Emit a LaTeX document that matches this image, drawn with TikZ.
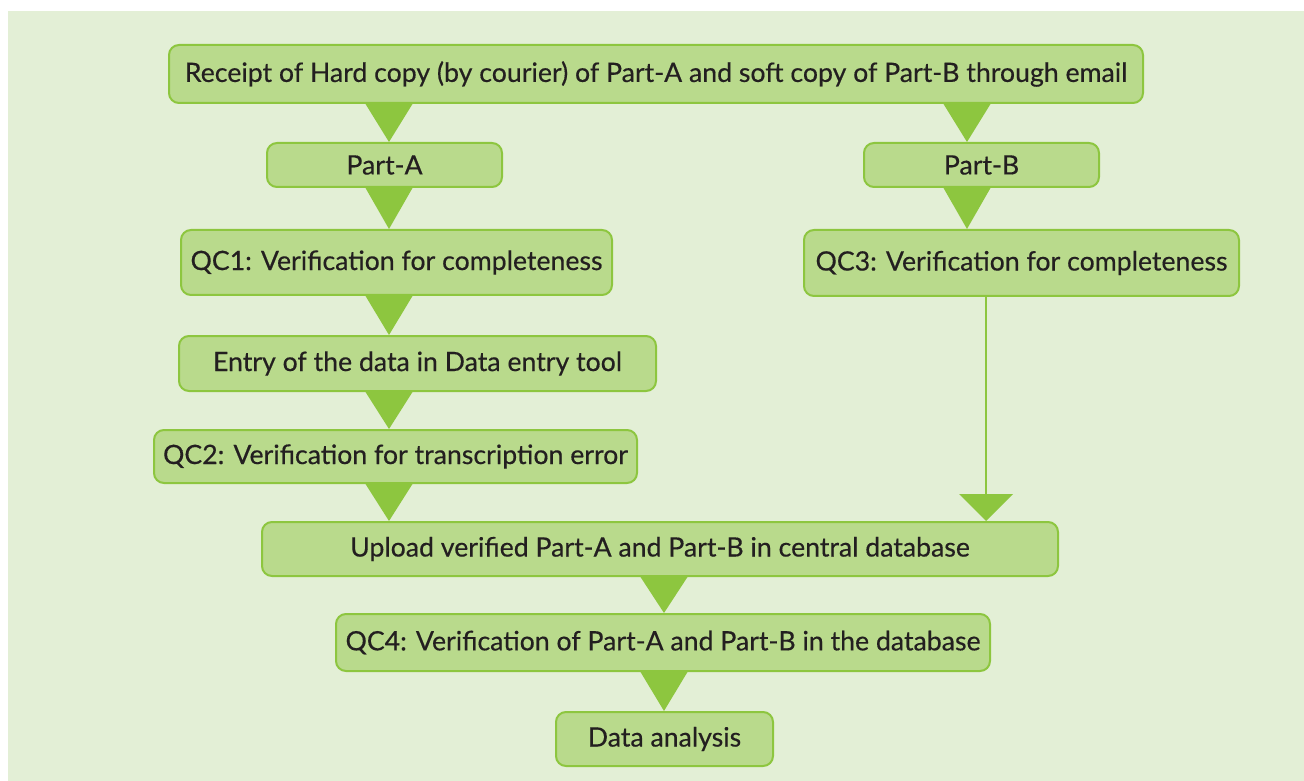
\documentclass[tikz,border=0pt]{standalone}
\usepackage{fontspec}
\setmainfont{Lato}[FakeBold=0.4,AutoFakeBold=0]
\usetikzlibrary{calc}
\definecolor{bgpanel}{HTML}{E3EFD6}
\definecolor{boxfill}{HTML}{B9DA8C}
\definecolor{boxline}{HTML}{8DC63F}
\definecolor{inktext}{HTML}{231F20}
\tikzset{
  stepbox/.style={draw=boxline, line width=1.5pt, fill=boxfill, rounded corners=7.5pt,
    inner sep=0pt, text=inktext, font=\fontsize{20}{23}\selectfont},
  tri/.style={fill=boxline},
  feed/.style={draw=boxline, line width=1.5pt}
}
% w, h in px; 1px = 0.75pt
\newcommand{\flowbox}[6]{%
  \node[stepbox, minimum width=#4*0.75pt, minimum height=#5*0.75pt] (#1) at (#2,#3) {#6};}
% triangle pointer of half width #4 at x=#3 between nodes #1 and #2
\newcommand{\pointer}[4]{%
  \fill[tri] ($(#1.south -| #3,0)+(-#4,0)$) -- ($(#1.south -| #3,0)+(#4,0)$) -- (#2.north -| #3,0) -- cycle;}
\begin{document}
\begin{tikzpicture}[x=0.75pt, y=-0.75pt]
\useasboundingbox (0,0) rectangle (1304,781);
\fill[bgpanel] (8,11) rectangle (1304,781);

\flowbox{top}{656}{74}{974}{58}{Receipt of Hard copy (by courier) of Part-A and soft copy of Part-B through email}
\flowbox{partA}{384.5}{165}{235}{44}{Part-A}
\flowbox{partB}{981.5}{165}{235}{44}{Part-B}
\flowbox{qcone}{396.5}{262.5}{431}{65}{QC1: Verification for completeness}
\flowbox{qcthree}{1021.5}{263}{435}{66}{QC3: Verification for completeness}
\flowbox{entry}{417.5}{363.5}{477}{55}{Entry of the data in Data entry tool}
\flowbox{qctwo}{395.5}{456.5}{483}{53}{QC2: Verification for transcription error}
\flowbox{upload}{660}{549}{796}{54}{Upload verified Part-A and Part-B in central database}
\flowbox{qcfour}{663}{642.5}{654}{57}{QC4: Verification of Part-A and Part-B in the database}
\flowbox{data}{664.5}{739}{217}{54}{Data analysis}

\pointer{top}{partA}{389}{23.5}
\pointer{partA}{qcone}{389}{23.5}
\pointer{qcone}{entry}{389}{23.5}
\pointer{entry}{qctwo}{389}{23.5}
\pointer{qctwo}{upload}{389}{23.5}
\pointer{top}{partB}{967}{23.5}
\pointer{partB}{qcthree}{967}{23.5}
\pointer{upload}{qcfour}{664}{23.5}
\pointer{qcfour}{data}{664}{23.5}

% long feed from QC3 down to the upload step
\coordinate (bend) at (986,494);
\draw[feed] (qcthree.south -| bend) -- (bend);
\fill[tri] ($(bend)+(-27,0)$) -- ($(bend)+(27,0)$) -- (upload.north -| bend) -- cycle;
\end{tikzpicture}
\end{document}
